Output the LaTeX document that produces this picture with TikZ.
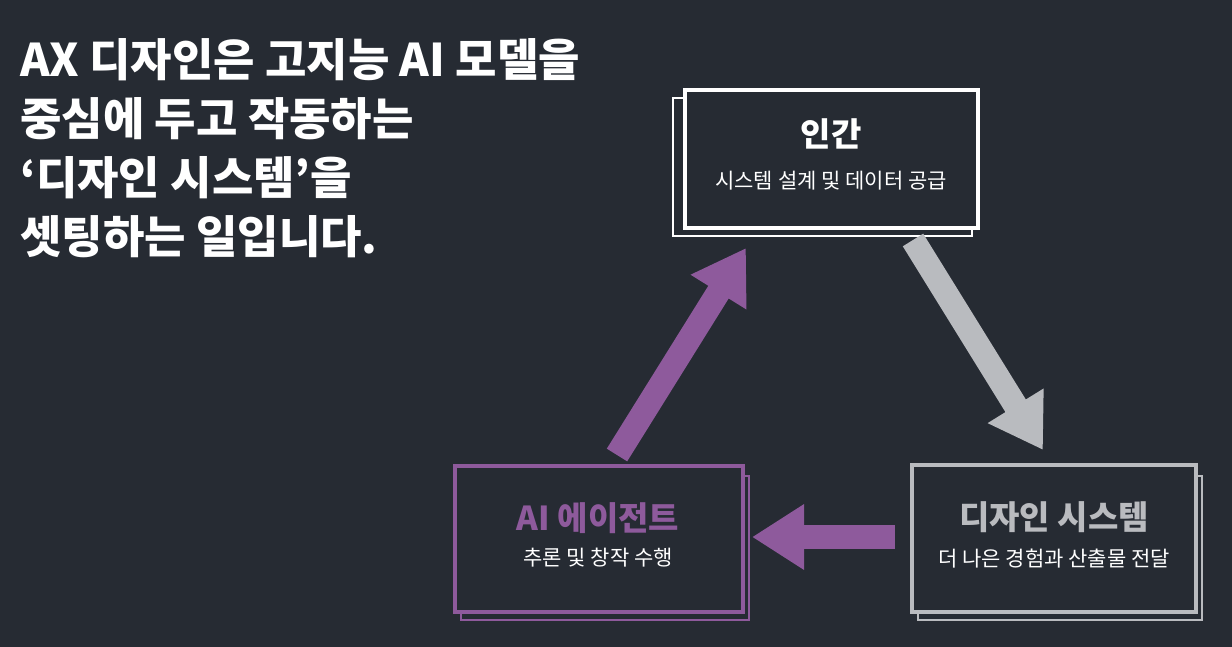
\documentclass[tikz,border=0pt]{standalone}
\usepackage{fontspec}
\setmainfont{Noto Sans CJK KR}
\newfontfamily\kr{Noto Sans CJK KR}
\usetikzlibrary{arrows.meta}
\definecolor{bg}{HTML}{262B33}
\definecolor{pur}{HTML}{8E5A9C}
\definecolor{gry}{HTML}{B9BBBF}
\begin{document}
\begin{tikzpicture}[x=0.5pt,y=-0.5pt,
  big/.style={-{Triangle[length=26pt,width=31pt]},line width=12pt},
  title/.style={font=\kr\bfseries\fontsize{16.5}{18}\selectfont},
  sub/.style={font=\kr\fontsize{10.5}{12}\selectfont,text=white}]
\fill[bg] (0,0) rectangle (1232,647);
\useasboundingbox (0,0) rectangle (1232,647);
\node[anchor=north west,align=left,text=white,inner sep=0pt,font=\kr\bfseries\fontsize{22.5}{29.5}\selectfont] (head) at (20,38)
 {AX 디자인은 고지능 AI 모델을\\중심에 두고 작동하는\\‘디자인 시스템’을\\셋팅하는 일입니다.};
% top box
\draw[white,line width=1.2pt] (673,98) rectangle (972,236);
\draw[white,line width=2.2pt,fill=bg] (685,90) rectangle (978,228);
\node[title,text=white] (hum) at (831,134) {인간};
\node[sub] (humsub) at (831,181) {시스템 설계 및 데이터 공급};
% AI box
\draw[pur,line width=1pt] (461,476) rectangle (749,620);
\draw[pur,line width=2.2pt,fill=bg] (455,466) rectangle (743,612);
\node[title,text=pur] (ai) at (598,518) {AI 에이전트};
\node[sub] (aisub) at (598,558) {추론 및 창작 수행};
% design box
\draw[gry,line width=1pt] (918,476) rectangle (1202,620);
\draw[gry,line width=2.2pt,fill=bg] (912,465) rectangle (1196,612);
\node[title,text=gry] (ds) at (1054,517) {디자인 시스템};
\node[sub] (dssub) at (1054,559) {더 나은 경험과 산출물 전달};
% arrows
\coordinate (g1) at (913,240); \coordinate (g2) at (1043,450);
\coordinate (p1) at (617,455); \coordinate (p2) at (746,248);
\coordinate (h1) at (895,537); \coordinate (h2) at (752,537);
\draw[big,gry] (g1) -- (g2);
\draw[big,pur] (p1) -- (p2);
\draw[big,pur] (h1) -- (h2);
\end{tikzpicture}
\end{document}
